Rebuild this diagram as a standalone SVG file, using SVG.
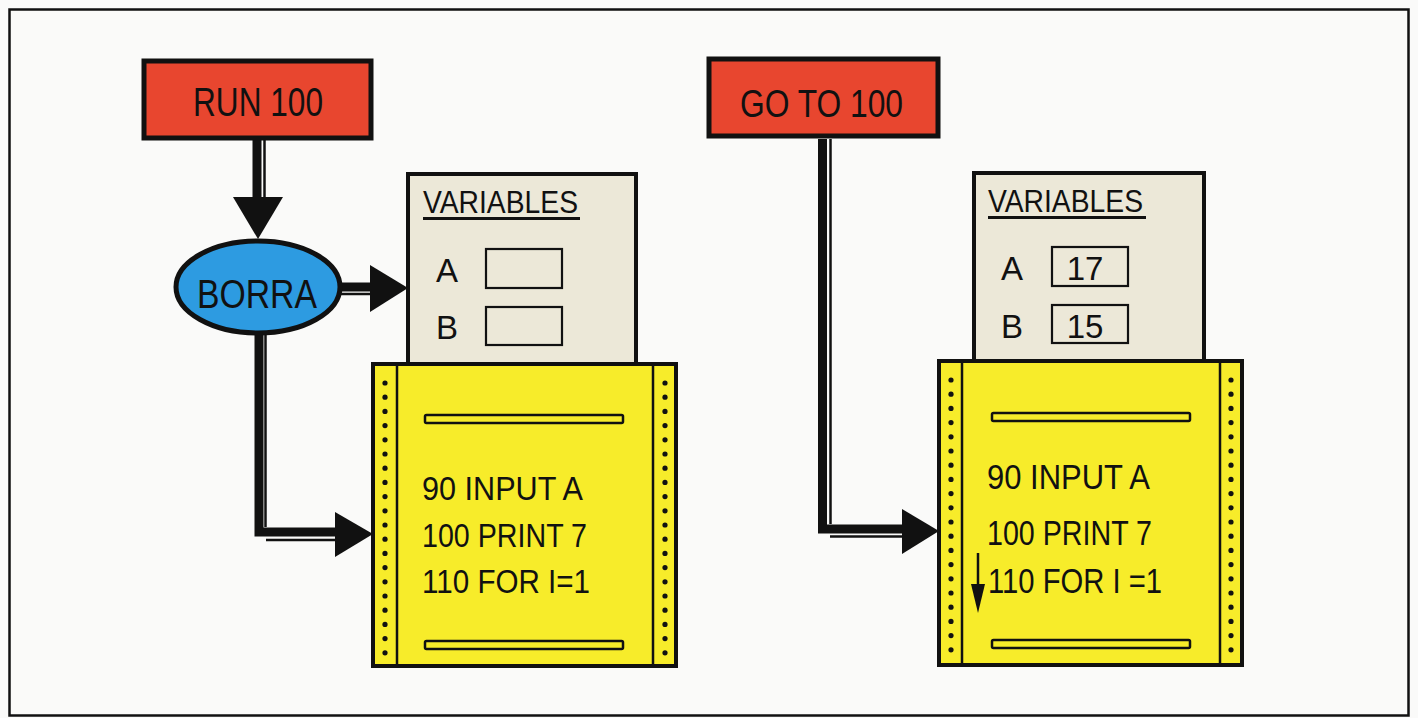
<svg xmlns="http://www.w3.org/2000/svg" width="1418" height="718" viewBox="0 0 1418 718">
<style>
.t{font-family:"Liberation Sans",Arial,sans-serif;fill:#111;}
.cmd{fill:#E8462F;stroke:#111;stroke-width:5;}
.var{fill:#ECE8D8;stroke:#111;stroke-width:4;}
.slot{fill:none;stroke:#111;stroke-width:2.2;}
.paper{fill:#F7EC2A;stroke:#111;stroke-width:4;}
.inner{stroke:#111;stroke-width:2.5;}
.bar{fill:#F7EC2A;stroke:#111;stroke-width:2.5;}
.thick{fill:none;stroke:#111;stroke-width:9;stroke-linejoin:miter;}
.thin{fill:none;stroke:#111;stroke-width:2.5;}
.head{fill:#111;}
.dot{fill:#111;}
</style>
<defs>
<g id="dotcol">
<circle cx="0" cy="0" r="2.6"/><circle cx="0" cy="14.2" r="2.6"/><circle cx="0" cy="28.4" r="2.6"/><circle cx="0" cy="42.6" r="2.6"/><circle cx="0" cy="56.8" r="2.6"/><circle cx="0" cy="71" r="2.6"/><circle cx="0" cy="85.2" r="2.6"/><circle cx="0" cy="99.4" r="2.6"/><circle cx="0" cy="113.6" r="2.6"/><circle cx="0" cy="127.8" r="2.6"/><circle cx="0" cy="142" r="2.6"/><circle cx="0" cy="156.2" r="2.6"/><circle cx="0" cy="170.4" r="2.6"/><circle cx="0" cy="184.6" r="2.6"/><circle cx="0" cy="198.8" r="2.6"/><circle cx="0" cy="213" r="2.6"/><circle cx="0" cy="227.2" r="2.6"/><circle cx="0" cy="241.4" r="2.6"/><circle cx="0" cy="255.6" r="2.6"/><circle cx="0" cy="269.8" r="2.6"/>
</g>
</defs>
<rect x="0" y="0" width="1418" height="718" fill="#FAFAF9"/>
<rect x="9.5" y="9.5" width="1399" height="706" fill="none" stroke="#111" stroke-width="2.5"/>

<g id="connectors">
<line class="thick" x1="257" y1="139" x2="257" y2="200"/>
<line class="thin" x1="264.5" y1="139" x2="264.5" y2="200"/>
<polygon class="head" points="233,197 283,197 258,239"/>
<line class="thick" x1="340" y1="287" x2="372" y2="287"/>
<line class="thin" x1="340" y1="294" x2="372" y2="294"/>
<polygon class="head" points="370,265 370,312 408,288"/>
<polyline class="thick" points="259,334 259,532 338,532"/>
<line class="thin" x1="265.5" y1="334" x2="265.5" y2="527"/>
<line class="thin" x1="266" y1="540" x2="338" y2="540"/>
<polygon class="head" points="335,512 335,557 373,534"/>
<polyline class="thick" points="822.5,139 822.5,529 904,529"/>
<line class="thin" x1="830.5" y1="139" x2="830.5" y2="524"/>
<line class="thin" x1="830" y1="536.5" x2="904" y2="536.5"/>
<polygon class="head" points="902,509 902,554 939,531"/>
</g>

<g id="run100">
<rect class="cmd" x="144" y="61" width="227" height="77"/>
<text class="t" x="193" y="116" font-size="41" textLength="130" lengthAdjust="spacingAndGlyphs">RUN 100</text>
</g>

<g id="borra">
<ellipse cx="258" cy="287" rx="82" ry="46" fill="#2D9BE1" stroke="#111" stroke-width="5"/>
<text class="t" x="197" y="308" font-size="41" textLength="120" lengthAdjust="spacingAndGlyphs">BORRA</text>
</g>

<g id="vars-left">
<rect class="var" x="408" y="174" width="228" height="200"/>
<text class="t" x="423" y="213" font-size="31" textLength="155" lengthAdjust="spacingAndGlyphs">VARIABLES</text>
<line x1="423" y1="218.5" x2="580" y2="218.5" stroke="#111" stroke-width="3"/>
<text class="t" x="436" y="282" font-size="33">A</text>
<rect class="slot" x="486" y="249" width="76" height="39"/>
<text class="t" x="436" y="339" font-size="33">B</text>
<rect class="slot" x="486" y="307" width="76" height="38"/>
</g>

<g id="program-left">
<rect class="paper" x="373" y="364" width="303" height="302"/>
<line class="inner" x1="397" y1="364" x2="397" y2="666"/>
<line class="inner" x1="653" y1="364" x2="653" y2="666"/>
<use href="#dotcol" x="385" y="383" class="dot"/>
<use href="#dotcol" x="665" y="383" class="dot"/>
<rect class="bar" x="425" y="415" width="198" height="8" rx="1.5"/>
<rect class="bar" x="425" y="641" width="198" height="8" rx="1.5"/>
<text class="t" x="422" y="500" font-size="34" textLength="161" lengthAdjust="spacingAndGlyphs">90 INPUT A</text>
<text class="t" x="422" y="547" font-size="34" textLength="165" lengthAdjust="spacingAndGlyphs">100 PRINT 7</text>
<text class="t" x="422" y="593" font-size="34" textLength="168" lengthAdjust="spacingAndGlyphs">110 FOR I=1</text>
</g>

<g id="goto100">
<rect class="cmd" x="709" y="59" width="229" height="77"/>
<text class="t" x="740" y="117" font-size="38" textLength="163" lengthAdjust="spacingAndGlyphs">GO TO 100</text>
</g>

<g id="vars-right">
<rect class="var" x="974" y="173" width="230" height="200"/>
<text class="t" x="988" y="212" font-size="31" textLength="155" lengthAdjust="spacingAndGlyphs">VARIABLES</text>
<line x1="988" y1="217.5" x2="1146" y2="217.5" stroke="#111" stroke-width="3"/>
<text class="t" x="1001" y="280" font-size="33">A</text>
<rect class="slot" x="1052" y="247" width="76" height="39"/>
<text class="t" x="1085" y="280" font-size="33" text-anchor="middle">17</text>
<text class="t" x="1001" y="338" font-size="33">B</text>
<rect class="slot" x="1052" y="305" width="76" height="38"/>
<text class="t" x="1085" y="338" font-size="33" text-anchor="middle">15</text>
</g>

<g id="program-right">
<rect class="paper" x="939" y="361" width="303" height="304"/>
<line class="inner" x1="962" y1="361" x2="962" y2="665"/>
<line class="inner" x1="1220" y1="361" x2="1220" y2="665"/>
<use href="#dotcol" x="951" y="380" class="dot"/>
<use href="#dotcol" x="1231" y="380" class="dot"/>
<rect class="bar" x="992" y="413" width="198" height="8" rx="1.5"/>
<rect class="bar" x="992" y="640" width="198" height="8" rx="1.5"/>
<text class="t" x="987" y="489" font-size="35" textLength="163" lengthAdjust="spacingAndGlyphs">90 INPUT A</text>
<text class="t" x="987" y="545" font-size="35" textLength="165" lengthAdjust="spacingAndGlyphs">100 PRINT 7</text>
<text class="t" x="988" y="593" font-size="35" textLength="174" lengthAdjust="spacingAndGlyphs">110 FOR I =1</text>
<line x1="978" y1="553" x2="978" y2="592" stroke="#111" stroke-width="2.5"/>
<polygon class="head" points="971,584 985,584 978,613"/>
</g>
</svg>
